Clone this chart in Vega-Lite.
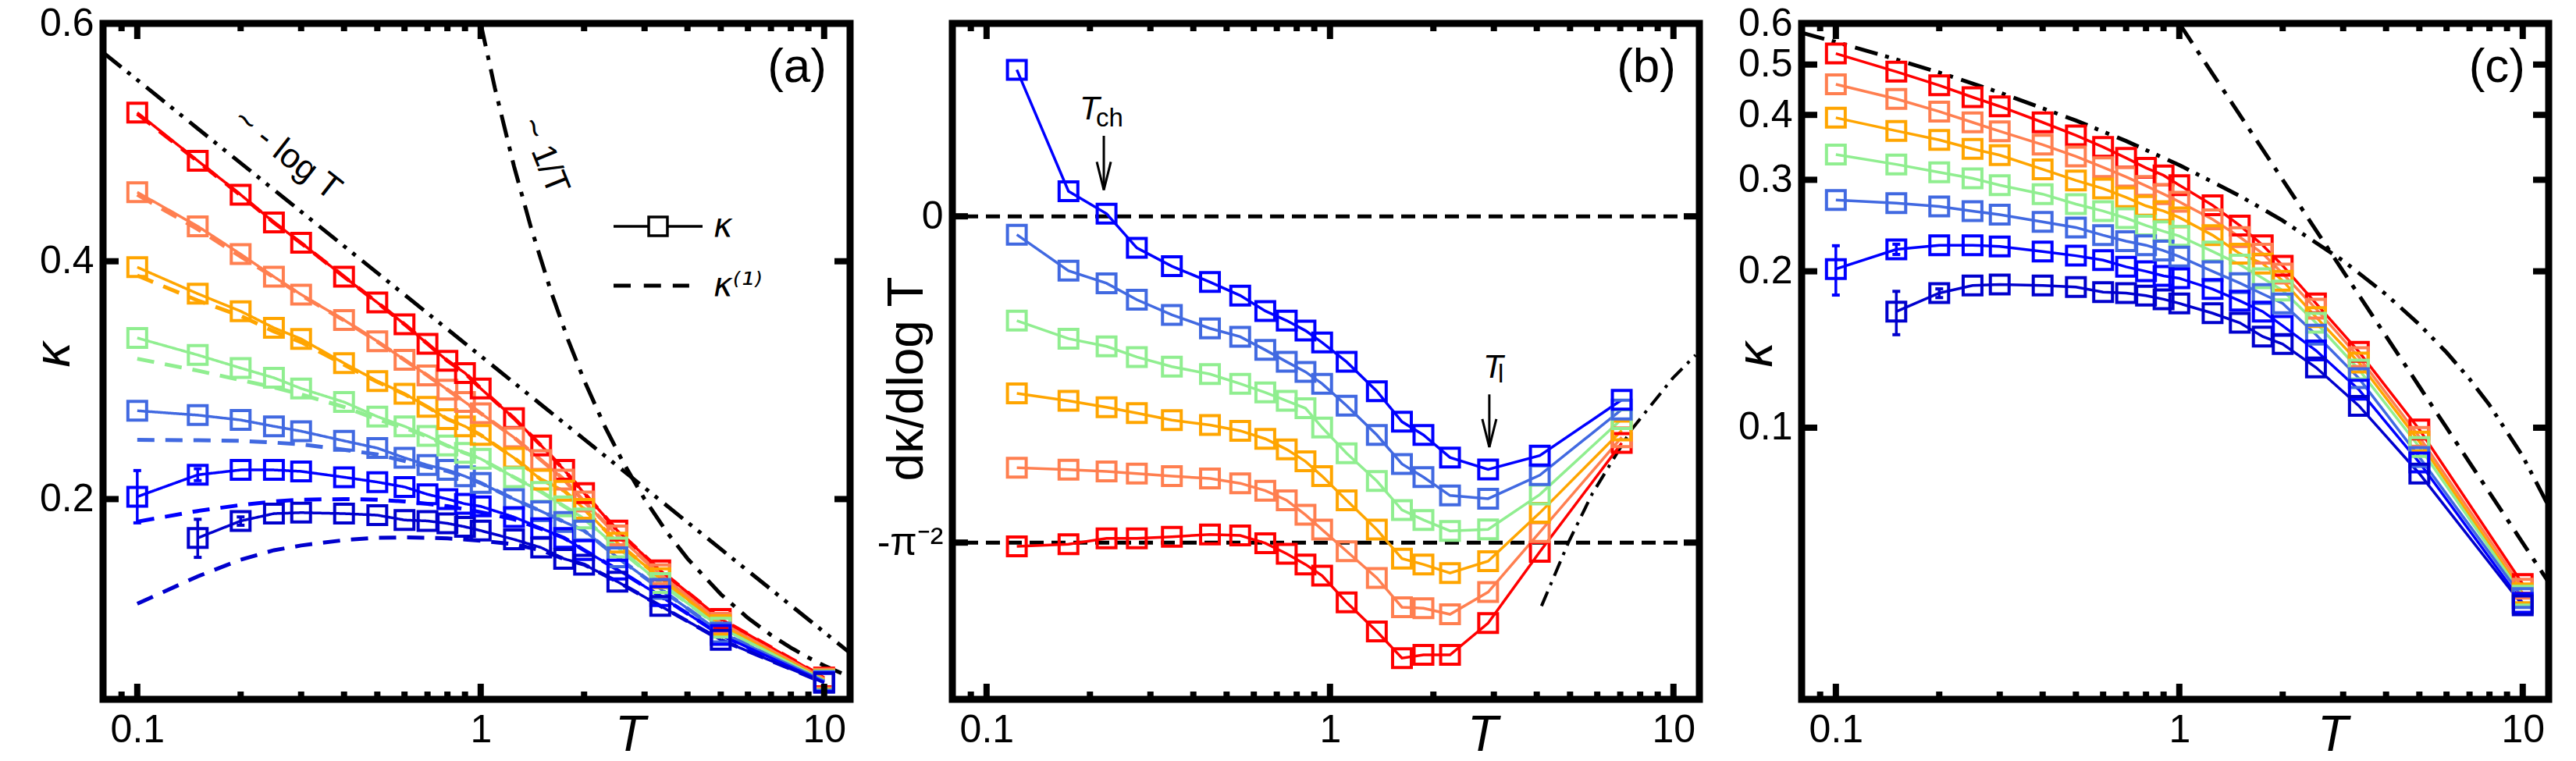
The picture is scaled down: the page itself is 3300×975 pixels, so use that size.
{
  "$schema": "https://vega.github.io/schema/vega-lite/v6.json",
  "autosize": {"type": "none"},
  "padding": {"left": 132, "top": 30, "right": 3168, "bottom": 945},
  "background": "white",
  "spacing": 131,
  "bounds": "flush",
  "datasets": {
    "kap": [
      {"T": 0.1, "c1": 0.525, "c2": 0.458, "c3": 0.395, "c4": 0.3355, "c5": 0.2743, "c6": 0.202},
      {"T": 0.15, "c1": 0.4845, "c2": 0.4294, "c3": 0.3727, "c4": 0.3212, "c5": 0.2706, "c6": 0.2204, "c7": 0.1673},
      {"T": 0.2, "c1": 0.456, "c2": 0.406, "c3": 0.358, "c4": 0.3102, "c5": 0.2665, "c6": 0.2245, "c7": 0.1816},
      {"T": 0.25, "c1": 0.4327, "c2": 0.387, "c3": 0.344, "c4": 0.302, "c5": 0.2612, "c6": 0.2245, "c7": 0.1878},
      {"T": 0.3, "c1": 0.4155, "c2": 0.372, "c3": 0.3347, "c4": 0.293, "c5": 0.2571, "c6": 0.2233, "c7": 0.1886},
      {"T": 0.4, "c1": 0.387, "c2": 0.3506, "c3": 0.3143, "c4": 0.2816, "c5": 0.249, "c6": 0.2184, "c7": 0.1878},
      {"T": 0.5, "c1": 0.3653, "c2": 0.3327, "c3": 0.2992, "c4": 0.2694, "c5": 0.2429, "c6": 0.2143, "c7": 0.1865},
      {"T": 0.6, "c1": 0.347, "c2": 0.3171, "c3": 0.2886, "c4": 0.2612, "c5": 0.2347, "c6": 0.2102, "c7": 0.1824},
      {"T": 0.7, "c1": 0.3306, "c2": 0.304, "c3": 0.2776, "c4": 0.2531, "c5": 0.2286, "c6": 0.204, "c7": 0.1816},
      {"T": 0.8, "c1": 0.3163, "c2": 0.292, "c3": 0.2673, "c4": 0.245, "c5": 0.2245, "c6": 0.2, "c7": 0.1796},
      {"T": 0.9, "c1": 0.306, "c2": 0.2816, "c3": 0.2612, "c4": 0.2388, "c5": 0.2192, "c6": 0.196, "c7": 0.1767},
      {"T": 1, "c1": 0.293, "c2": 0.2722, "c3": 0.2539, "c4": 0.2339, "c5": 0.2135, "c6": 0.1939, "c7": 0.1735},
      {"T": 1.25, "c1": 0.268, "c2": 0.2518, "c3": 0.2347, "c4": 0.2184, "c5": 0.2, "c6": 0.1849, "c7": 0.1661},
      {"T": 1.5, "c1": 0.245, "c2": 0.2327, "c3": 0.2163, "c4": 0.2061, "c5": 0.1898, "c6": 0.1755, "c7": 0.1592},
      {"T": 1.75, "c1": 0.2245, "c2": 0.2163, "c3": 0.207, "c4": 0.1939, "c5": 0.1808, "c6": 0.1673, "c7": 0.1498},
      {"T": 2, "c1": 0.205, "c2": 0.198, "c3": 0.1918, "c4": 0.1837, "c5": 0.1735, "c6": 0.1571, "c7": 0.1449},
      {"T": 2.5, "c1": 0.1735, "c2": 0.1694, "c3": 0.1633, "c4": 0.1592, "c5": 0.151, "c6": 0.1408, "c7": 0.1306},
      {"T": 3.333, "c1": 0.14, "c2": 0.1367, "c3": 0.1335, "c4": 0.1294, "c5": 0.1245, "c6": 0.1184, "c7": 0.1102},
      {"T": 5, "c1": 0.0992, "c2": 0.096, "c3": 0.094, "c4": 0.0918, "c5": 0.0878, "c6": 0.0857, "c7": 0.0816},
      {"T": 10, "c1": 0.05, "c2": 0.049, "c3": 0.048, "c4": 0.0475, "c5": 0.047, "c6": 0.046, "c7": 0.0455}
    ],
    "kap1": [
      {"T": 0.1, "c1": 0.524, "c2": 0.456, "c3": 0.388, "c4": 0.318, "c5": 0.2498, "c6": 0.181, "c7": 0.112},
      {"T": 0.15, "c1": 0.484, "c2": 0.427, "c3": 0.367, "c4": 0.308, "c5": 0.2495, "c6": 0.19, "c7": 0.135},
      {"T": 0.2, "c1": 0.4555, "c2": 0.404, "c3": 0.354, "c4": 0.3, "c5": 0.249, "c6": 0.195, "c7": 0.149},
      {"T": 0.25, "c1": 0.4325, "c2": 0.3865, "c3": 0.341, "c4": 0.294, "c5": 0.2475, "c6": 0.198, "c7": 0.157},
      {"T": 0.3, "c1": 0.4153, "c2": 0.3715, "c3": 0.332, "c4": 0.288, "c5": 0.246, "c6": 0.1995, "c7": 0.161},
      {"T": 0.4, "c1": 0.387, "c2": 0.3503, "c3": 0.313, "c4": 0.2775, "c5": 0.2415, "c6": 0.2, "c7": 0.1655},
      {"T": 0.5, "c1": 0.3653, "c2": 0.3325, "c3": 0.2985, "c4": 0.267, "c5": 0.2375, "c6": 0.1995, "c7": 0.1675},
      {"T": 0.6, "c1": 0.347, "c2": 0.317, "c3": 0.2883, "c4": 0.26, "c5": 0.232, "c6": 0.198, "c7": 0.1678},
      {"T": 0.7, "c1": 0.3306, "c2": 0.304, "c3": 0.2775, "c4": 0.2525, "c5": 0.227, "c6": 0.196, "c7": 0.1675},
      {"T": 0.8, "c1": 0.3163, "c2": 0.292, "c3": 0.2673, "c4": 0.2448, "c5": 0.2235, "c6": 0.194, "c7": 0.167},
      {"T": 0.9, "c1": 0.306, "c2": 0.2816, "c3": 0.2612, "c4": 0.2387, "c5": 0.219, "c6": 0.1915, "c7": 0.166},
      {"T": 1, "c1": 0.293, "c2": 0.2722, "c3": 0.2539, "c4": 0.2339, "c5": 0.2135, "c6": 0.189, "c7": 0.165},
      {"T": 1.25, "c1": 0.268, "c2": 0.2518, "c3": 0.2347, "c4": 0.2184, "c5": 0.2, "c6": 0.183, "c7": 0.162},
      {"T": 1.5, "c1": 0.245, "c2": 0.2327, "c3": 0.2163, "c4": 0.2061, "c5": 0.1898, "c6": 0.175, "c7": 0.157},
      {"T": 1.75, "c1": 0.2245, "c2": 0.2163, "c3": 0.207, "c4": 0.1939, "c5": 0.1808, "c6": 0.1673, "c7": 0.1495},
      {"T": 2, "c1": 0.205, "c2": 0.198, "c3": 0.1918, "c4": 0.1837, "c5": 0.1735, "c6": 0.1571, "c7": 0.1449},
      {"T": 2.5, "c1": 0.1735, "c2": 0.1694, "c3": 0.1633, "c4": 0.1592, "c5": 0.151, "c6": 0.1408, "c7": 0.1306},
      {"T": 3.333, "c1": 0.14, "c2": 0.1367, "c3": 0.1335, "c4": 0.1294, "c5": 0.1245, "c6": 0.1184, "c7": 0.1102},
      {"T": 5, "c1": 0.0992, "c2": 0.096, "c3": 0.094, "c4": 0.0918, "c5": 0.0878, "c6": 0.0857, "c7": 0.0816},
      {"T": 10, "c1": 0.05, "c2": 0.049, "c3": 0.048, "c4": 0.0475, "c5": 0.047, "c6": 0.046, "c7": 0.0455}
    ],
    "slope": [
      {"T": 0.1225, "c1": -0.1025, "c2": -0.0781, "c3": -0.055, "c4": -0.0324, "c5": -0.0057, "c6": 0.0455},
      {"T": 0.1732, "c1": -0.1018, "c2": -0.0787, "c3": -0.0573, "c4": -0.038, "c5": -0.0169, "c6": 0.0078},
      {"T": 0.2236, "c1": -0.1, "c2": -0.0792, "c3": -0.0593, "c4": -0.0404, "c5": -0.0208, "c6": 0.0008},
      {"T": 0.2739, "c1": -0.1, "c2": -0.0799, "c3": -0.0611, "c4": -0.0437, "c5": -0.0259, "c6": -0.0098},
      {"T": 0.3464, "c1": -0.0995, "c2": -0.0807, "c3": -0.0633, "c4": -0.0467, "c5": -0.0306, "c6": -0.0155},
      {"T": 0.4472, "c1": -0.0988, "c2": -0.0814, "c3": -0.0648, "c4": -0.049, "c5": -0.0348, "c6": -0.0204},
      {"T": 0.5477, "c1": -0.0991, "c2": -0.0829, "c3": -0.0666, "c4": -0.052, "c5": -0.0374, "c6": -0.0246},
      {"T": 0.6481, "c1": -0.1015, "c2": -0.0852, "c3": -0.0691, "c4": -0.0547, "c5": -0.0415, "c6": -0.0294},
      {"T": 0.7483, "c1": -0.1048, "c2": -0.0882, "c3": -0.0724, "c4": -0.0573, "c5": -0.0452, "c6": -0.0324},
      {"T": 0.8485, "c1": -0.1081, "c2": -0.0927, "c3": -0.0761, "c4": -0.0596, "c5": -0.0483, "c6": -0.0355},
      {"T": 0.9487, "c1": -0.1116, "c2": -0.0973, "c3": -0.0807, "c4": -0.0656, "c5": -0.052, "c6": -0.0392},
      {"T": 1.118, "c1": -0.1199, "c2": -0.104, "c3": -0.0882, "c4": -0.0736, "c5": -0.0588, "c6": -0.0452},
      {"T": 1.369, "c1": -0.1289, "c2": -0.1123, "c3": -0.0973, "c4": -0.0822, "c5": -0.0679, "c6": -0.0543},
      {"T": 1.62, "c1": -0.1372, "c2": -0.1214, "c3": -0.1063, "c4": -0.0912, "c5": -0.0769, "c6": -0.0638},
      {"T": 1.871, "c1": -0.1362, "c2": -0.1217, "c3": -0.1081, "c4": -0.0943, "c5": -0.081, "c6": -0.0679},
      {"T": 2.236, "c1": -0.1362, "c2": -0.1236, "c3": -0.1108, "c4": -0.0977, "c5": -0.0867, "c6": -0.0749},
      {"T": 2.887, "c1": -0.1263, "c2": -0.1167, "c3": -0.1071, "c4": -0.0972, "c5": -0.0877, "c6": -0.0786},
      {"T": 4.082, "c1": -0.1042, "c2": -0.0981, "c3": -0.0921, "c4": -0.0864, "c5": -0.0804, "c6": -0.0743},
      {"T": 7.071, "c1": -0.0704, "c2": -0.0686, "c3": -0.0665, "c4": -0.063, "c5": -0.06, "c6": -0.057}
    ],
    "err": [
      {"s": "c6", "T": 0.1, "lo": 0.18, "hi": 0.224},
      {"s": "c6", "T": 0.15, "lo": 0.2155, "hi": 0.2255},
      {"s": "c7", "T": 0.15, "lo": 0.151, "hi": 0.183},
      {"s": "c7", "T": 0.2, "lo": 0.178, "hi": 0.185}
    ],
    "refLog": [
      {"T": 0.0795, "k": 0.5756}, {"T": 0.1, "k": 0.5525}, {"T": 0.15, "k": 0.5116},
      {"T": 0.2, "k": 0.4826}, {"T": 0.3, "k": 0.4417}, {"T": 0.5, "k": 0.3902},
      {"T": 0.7, "k": 0.3563}, {"T": 1, "k": 0.3203}, {"T": 1.5, "k": 0.2794},
      {"T": 2, "k": 0.2504}, {"T": 3, "k": 0.2095}, {"T": 4, "k": 0.1805},
      {"T": 5, "k": 0.158}, {"T": 6, "k": 0.1396}, {"T": 7, "k": 0.1241},
      {"T": 8, "k": 0.1106}, {"T": 10, "k": 0.0881}, {"T": 11.9, "k": 0.0706}
    ],
    "refInv": [
      {"T": 1, "k": 0.6}, {"T": 1.1, "k": 0.5455}, {"T": 1.25, "k": 0.48},
      {"T": 1.4, "k": 0.4286}, {"T": 1.6, "k": 0.375}, {"T": 1.8, "k": 0.3333},
      {"T": 2, "k": 0.3}, {"T": 2.3, "k": 0.2609}, {"T": 2.6, "k": 0.2308},
      {"T": 3, "k": 0.2}, {"T": 3.5, "k": 0.1714}, {"T": 4, "k": 0.15},
      {"T": 5, "k": 0.12}, {"T": 6, "k": 0.1}, {"T": 7, "k": 0.0857},
      {"T": 8, "k": 0.075}, {"T": 9, "k": 0.0667}, {"T": 10, "k": 0.06}, {"T": 11.9, "k": 0.0504}
    ],
    "refB": [
      {"T": 4.13, "d": -0.121}, {"T": 4.96, "d": -0.101}, {"T": 5.8, "d": -0.0862},
      {"T": 7.53, "d": -0.0664}, {"T": 9.95, "d": -0.0503}, {"T": 11.6, "d": -0.0431}
    ],
    "xMaj": [{"T": 0.1}, {"T": 1}, {"T": 10}],
    "xMin": [
      {"T": 0.09}, {"T": 0.2}, {"T": 0.3}, {"T": 0.4}, {"T": 0.5}, {"T": 0.6}, {"T": 0.7}, {"T": 0.8}, {"T": 0.9},
      {"T": 2}, {"T": 3}, {"T": 4}, {"T": 5}, {"T": 6}, {"T": 7}, {"T": 8}, {"T": 9}
    ],
    "yTicksA": [{"v": 0.2}, {"v": 0.4}],
    "yTicksB": [{"v": 0}, {"v": -0.10132}],
    "yTicksC": [{"v": 0.1}, {"v": 0.2}, {"v": 0.3}, {"v": 0.4}, {"v": 0.5}],
    "one": [{}]
  },
  "hconcat": [
    {
      "width": 957,
      "height": 866,
      "resolve": {"axis": {"x": "independent", "y": "independent"}},
      "layer": [
        {
          "data": {"name": "refLog"},
          "mark": {"type": "line", "color": "black", "strokeWidth": 5, "strokeDash": [30, 10, 5, 10, 5, 11], "clip": true},
          "encoding": {
            "x": {"field": "T", "type": "quantitative", "scale": {"type": "log", "domain": [0.0795, 11.9], "nice": false},
              "axis": {"orient": "bottom", "values": [0.1, 1, 10], "format": "~g", "ticks": false, "labelPadding": 14,
                "title": "T", "titleFontStyle": "italic", "titleX": 675, "titleY": 65, "titleAlign": "center", "titleBaseline": "alphabetic", "titleAngle": 0}},
            "y": {"field": "k", "type": "quantitative", "scale": {"domain": [0.0316, 0.6], "nice": false, "zero": false},
              "axis": {"orient": "left", "values": [0.2, 0.4, 0.6], "format": ".1f", "ticks": false, "labelPadding": 12,
                "title": "κ", "titleFontStyle": "italic", "titleX": -63, "titleY": 424, "titleAlign": "center", "titleBaseline": "middle", "titleAngle": -90}}
          }
        },
        {
          "data": {"name": "refInv"},
          "mark": {"type": "line", "color": "black", "strokeWidth": 5, "strokeDash": [30, 12, 6, 12], "clip": true},
          "encoding": {
            "x": {"field": "T", "type": "quantitative", "axis": null},
            "y": {"field": "k", "type": "quantitative", "axis": null}
          }
        },
        {
          "data": {"name": "kap1"},
          "transform": [{"fold": ["c1", "c2", "c3", "c4", "c5", "c6", "c7"], "as": ["s", "k"]}, {"filter": "isValid(datum.k)"}],
          "mark": {"type": "line", "strokeWidth": 5, "clip": true},
          "encoding": {
            "x": {"field": "T", "type": "quantitative", "axis": null},
            "y": {"field": "k", "type": "quantitative", "axis": null},
            "color": {"field": "s", "type": "nominal", "scale": {"domain": ["c1", "c2", "c3", "c4", "c5", "c6", "c7"], "range": ["#ff0000", "#ff7f50", "#ffa500", "#90ee90", "#4169e1", "#0000ff", "#0000cd"]}, "legend": null},
            "strokeDash": {"datum": "κ⁽¹⁾", "type": "nominal",
              "scale": {"domain": ["κ", "κ⁽¹⁾"], "range": [[1, 0], [22, 14]]},
              "legend": {"title": null, "orient": "none", "legendX": 690, "legendY": 239, "padding": 0,
                "symbolSize": 13000, "rowPadding": 34, "labelOffset": 50, "symbolStrokeWidth": 3.5,
                "labelFont": "DejaVu Sans", "labelFontSize": 42, "labelFontStyle": "italic", "labelColor": "black",
                "encode": {"symbols": {"update": {
                  "shape": {"signal": "datum.value === 'κ' ? 'M-1,0H-0.21M0.21,0H1M-0.21,-0.21H0.21V0.21H-0.21Z' : 'M-1,0H-0.53M-0.32,0H0.14M0.33,0H0.7'"},
                  "size": {"value": 13000},
                  "stroke": {"value": "black"},
                  "strokeDash": {"value": [1, 0]},
                  "strokeWidth": {"signal": "datum.value === 'κ' ? 3.5 : 5"},
                  "fill": {"value": "transparent"},
                  "opacity": {"value": 1}
                }}}}}
          }
        },
        {
          "data": {"name": "kap"},
          "transform": [{"fold": ["c1", "c2", "c3", "c4", "c5", "c6", "c7"], "as": ["s", "k"]}, {"filter": "isValid(datum.k)"}],
          "mark": {"type": "line", "strokeWidth": 3.5},
          "encoding": {
            "x": {"field": "T", "type": "quantitative", "axis": null},
            "y": {"field": "k", "type": "quantitative", "axis": null},
            "color": {"field": "s", "type": "nominal", "legend": null},
            "strokeDash": {"datum": "κ", "type": "nominal"}
          }
        },
        {
          "data": {"name": "err"},
          "mark": {"type": "rule", "strokeWidth": 3.5},
          "encoding": {
            "x": {"field": "T", "type": "quantitative", "axis": null},
            "y": {"field": "lo", "type": "quantitative", "axis": null},
            "y2": {"field": "hi"},
            "color": {"field": "s", "type": "nominal", "legend": null}
          }
        },
        {
          "data": {"name": "err"},
          "transform": [{"fold": ["lo", "hi"], "as": ["end", "e"]}],
          "mark": {"type": "point", "shape": "M-1,0H1", "size": 100, "strokeWidth": 4, "filled": false, "opacity": 1},
          "encoding": {
            "x": {"field": "T", "type": "quantitative", "axis": null},
            "y": {"field": "e", "type": "quantitative", "axis": null},
            "color": {"field": "s", "type": "nominal", "legend": null}
          }
        },
        {
          "data": {"name": "kap"},
          "transform": [{"fold": ["c1", "c2", "c3", "c4", "c5", "c6", "c7"], "as": ["s", "k"]}, {"filter": "isValid(datum.k)"}],
          "mark": {"type": "point", "shape": "square", "filled": false, "size": 576, "strokeWidth": 4, "opacity": 1},
          "encoding": {
            "x": {"field": "T", "type": "quantitative", "axis": null},
            "y": {"field": "k", "type": "quantitative", "axis": null},
            "color": {"field": "s", "type": "nominal", "legend": null}
          }
        },
        {
          "data": {"name": "one"},
          "mark": {"type": "text", "text": "~ - log T", "angle": 38, "fontSize": 44, "font": "Liberation Sans", "color": "black", "align": "center", "baseline": "middle"},
          "encoding": {"x": {"datum": 0.273, "type": "quantitative", "axis": null}, "y": {"datum": 0.4897, "type": "quantitative", "axis": null}}
        },
        {
          "data": {"name": "one"},
          "mark": {"type": "text", "text": "~ 1/T", "angle": 68, "fontSize": 44, "font": "Liberation Sans", "color": "black", "align": "center", "baseline": "middle"},
          "encoding": {"x": {"datum": 1.528, "type": "quantitative", "axis": null}, "y": {"datum": 0.4884, "type": "quantitative", "axis": null}}
        },
        {
          "data": {"name": "one"},
          "mark": {"type": "text", "text": "(a)", "fontSize": 62, "font": "Liberation Sans", "color": "black", "align": "right", "baseline": "middle"},
          "encoding": {"x": {"datum": 10.17, "type": "quantitative", "axis": null}, "y": {"datum": 0.5632, "type": "quantitative", "axis": null}}
        },
        {
          "data": {"name": "xMaj"},
          "mark": {"type": "tick", "orient": "vertical", "size": 20, "thickness": 8, "yOffset": -10, "color": "black", "opacity": 1},
          "encoding": {"x": {"field": "T", "type": "quantitative", "axis": null}, "y": {"datum": 0.0316, "type": "quantitative", "axis": null}}
        },
        {
          "data": {"name": "xMaj"},
          "mark": {"type": "tick", "orient": "vertical", "size": 20, "thickness": 8, "yOffset": 10, "color": "black", "opacity": 1},
          "encoding": {"x": {"field": "T", "type": "quantitative", "axis": null}, "y": {"datum": 0.6, "type": "quantitative", "axis": null}}
        },
        {
          "data": {"name": "xMin"},
          "mark": {"type": "tick", "orient": "vertical", "size": 10, "thickness": 8, "yOffset": -5, "color": "black", "opacity": 1},
          "encoding": {"x": {"field": "T", "type": "quantitative", "axis": null}, "y": {"datum": 0.0316, "type": "quantitative", "axis": null}}
        },
        {
          "data": {"name": "xMin"},
          "mark": {"type": "tick", "orient": "vertical", "size": 10, "thickness": 8, "yOffset": 5, "color": "black", "opacity": 1},
          "encoding": {"x": {"field": "T", "type": "quantitative", "axis": null}, "y": {"datum": 0.6, "type": "quantitative", "axis": null}}
        },
        {
          "data": {"name": "yTicksA"},
          "mark": {"type": "tick", "orient": "horizontal", "size": 20, "thickness": 8, "xOffset": 10, "color": "black", "opacity": 1},
          "encoding": {"x": {"datum": 0.0795, "type": "quantitative", "axis": null}, "y": {"field": "v", "type": "quantitative", "axis": null}}
        },
        {
          "data": {"name": "yTicksA"},
          "mark": {"type": "tick", "orient": "horizontal", "size": 20, "thickness": 8, "xOffset": -10, "color": "black", "opacity": 1},
          "encoding": {"x": {"datum": 11.9, "type": "quantitative", "axis": null}, "y": {"field": "v", "type": "quantitative", "axis": null}}
        }
      ]
    },
    {
      "width": 957,
      "height": 866,
      "resolve": {"axis": {"x": "independent", "y": "independent"}},
      "layer": [
        {
          "data": {"values": [{"d": 0}, {"d": -0.10132}]},
          "mark": {"type": "rule", "color": "black", "strokeWidth": 5, "strokeDash": [18, 10]},
          "encoding": {
            "y": {"field": "d", "type": "quantitative", "scale": {"domain": [-0.15, 0.0599], "nice": false, "zero": false},
              "axis": {"orient": "left", "values": [0, -0.10132], "labelExpr": "datum.value === 0 ? '0' : '-π⁻²'", "ticks": false, "labelPadding": 12,
                "title": "dκ/dlog T", "titleX": -58, "titleY": 455, "titleAlign": "center", "titleBaseline": "middle", "titleAngle": -90}}
          }
        },
        {
          "data": {"name": "refB"},
          "mark": {"type": "line", "color": "black", "strokeWidth": 4, "strokeDash": [20, 9, 4, 9], "clip": true},
          "encoding": {
            "x": {"field": "T", "type": "quantitative", "scale": {"type": "log", "domain": [0.0795, 11.9], "nice": false},
              "axis": {"orient": "bottom", "values": [0.1, 1, 10], "format": "~g", "ticks": false, "labelPadding": 14,
                "title": "T", "titleFontStyle": "italic", "titleX": 679, "titleY": 65, "titleAlign": "center", "titleBaseline": "alphabetic", "titleAngle": 0}},
            "y": {"field": "d", "type": "quantitative", "axis": null}
          }
        },
        {
          "data": {"name": "slope"},
          "transform": [{"fold": ["c1", "c2", "c3", "c4", "c5", "c6"], "as": ["s", "d"]}],
          "mark": {"type": "line", "strokeWidth": 3.5},
          "encoding": {
            "x": {"field": "T", "type": "quantitative", "axis": null},
            "y": {"field": "d", "type": "quantitative", "axis": null},
            "color": {"field": "s", "type": "nominal", "scale": {"domain": ["c1", "c2", "c3", "c4", "c5", "c6", "c7"], "range": ["#ff0000", "#ff7f50", "#ffa500", "#90ee90", "#4169e1", "#0000ff", "#0000cd"]}, "legend": null}
          }
        },
        {
          "data": {"name": "slope"},
          "transform": [{"fold": ["c1", "c2", "c3", "c4", "c5", "c6"], "as": ["s", "d"]}],
          "mark": {"type": "point", "shape": "square", "filled": false, "size": 576, "strokeWidth": 4, "opacity": 1},
          "encoding": {
            "x": {"field": "T", "type": "quantitative", "axis": null},
            "y": {"field": "d", "type": "quantitative", "axis": null},
            "color": {"field": "s", "type": "nominal", "legend": null}
          }
        },
        {
          "data": {"values": [{"T": 0.2195, "v1": 0.025, "v2": 0.0082}, {"T": 2.91, "v1": -0.0553, "v2": -0.0717}]},
          "mark": {"type": "rule", "color": "black", "strokeWidth": 3},
          "encoding": {
            "x": {"field": "T", "type": "quantitative", "axis": null},
            "y": {"field": "v1", "type": "quantitative", "axis": null},
            "y2": {"field": "v2"}
          }
        },
        {
          "data": {"values": [{"T": 0.2195, "v": 0.0082}, {"T": 2.91, "v": -0.0717}]},
          "mark": {"type": "point", "shape": "M-0.5,-2L0,0L0.5,-2", "size": 1296, "filled": false, "color": "black", "strokeWidth": 3, "opacity": 1},
          "encoding": {
            "x": {"field": "T", "type": "quantitative", "axis": null},
            "y": {"field": "v", "type": "quantitative", "axis": null}
          }
        },
        {
          "data": {"values": [{"T": 0.1866, "v": 0.0301, "t": "T"}, {"T": 2.792, "v": -0.0502, "t": "T"}]},
          "mark": {"type": "text", "fontSize": 42, "font": "Liberation Sans", "fontStyle": "italic", "color": "black", "align": "left", "baseline": "alphabetic"},
          "encoding": {
            "x": {"field": "T", "type": "quantitative", "axis": null},
            "y": {"field": "v", "type": "quantitative", "axis": null},
            "text": {"field": "t"}
          }
        },
        {
          "data": {"values": [{"T": 0.2083, "v": 0.0279, "t": "ch"}, {"T": 3.084, "v": -0.0516, "t": "l"}]},
          "mark": {"type": "text", "fontSize": 33, "font": "Liberation Sans", "color": "black", "align": "left", "baseline": "alphabetic"},
          "encoding": {
            "x": {"field": "T", "type": "quantitative", "axis": null},
            "y": {"field": "v", "type": "quantitative", "axis": null},
            "text": {"field": "t"}
          }
        },
        {
          "data": {"name": "one"},
          "mark": {"type": "text", "text": "(b)", "fontSize": 62, "font": "Liberation Sans", "color": "black", "align": "right", "baseline": "middle"},
          "encoding": {"x": {"datum": 10.17, "type": "quantitative", "axis": null}, "y": {"datum": 0.0463, "type": "quantitative", "axis": null}}
        },
        {
          "data": {"name": "xMaj"},
          "mark": {"type": "tick", "orient": "vertical", "size": 20, "thickness": 8, "yOffset": -10, "color": "black", "opacity": 1},
          "encoding": {"x": {"field": "T", "type": "quantitative", "axis": null}, "y": {"datum": -0.15, "type": "quantitative", "axis": null}}
        },
        {
          "data": {"name": "xMaj"},
          "mark": {"type": "tick", "orient": "vertical", "size": 20, "thickness": 8, "yOffset": 10, "color": "black", "opacity": 1},
          "encoding": {"x": {"field": "T", "type": "quantitative", "axis": null}, "y": {"datum": 0.0599, "type": "quantitative", "axis": null}}
        },
        {
          "data": {"name": "xMin"},
          "mark": {"type": "tick", "orient": "vertical", "size": 10, "thickness": 8, "yOffset": -5, "color": "black", "opacity": 1},
          "encoding": {"x": {"field": "T", "type": "quantitative", "axis": null}, "y": {"datum": -0.15, "type": "quantitative", "axis": null}}
        },
        {
          "data": {"name": "xMin"},
          "mark": {"type": "tick", "orient": "vertical", "size": 10, "thickness": 8, "yOffset": 5, "color": "black", "opacity": 1},
          "encoding": {"x": {"field": "T", "type": "quantitative", "axis": null}, "y": {"datum": 0.0599, "type": "quantitative", "axis": null}}
        },
        {
          "data": {"name": "yTicksB"},
          "mark": {"type": "tick", "orient": "horizontal", "size": 20, "thickness": 8, "xOffset": 10, "color": "black", "opacity": 1},
          "encoding": {"x": {"datum": 0.0795, "type": "quantitative", "axis": null}, "y": {"field": "v", "type": "quantitative", "axis": null}}
        },
        {
          "data": {"name": "yTicksB"},
          "mark": {"type": "tick", "orient": "horizontal", "size": 20, "thickness": 8, "xOffset": -10, "color": "black", "opacity": 1},
          "encoding": {"x": {"datum": 11.9, "type": "quantitative", "axis": null}, "y": {"field": "v", "type": "quantitative", "axis": null}}
        }
      ]
    },
    {
      "width": 957,
      "height": 866,
      "resolve": {"axis": {"x": "independent", "y": "independent"}},
      "layer": [
        {
          "data": {"name": "refLog"},
          "mark": {"type": "line", "color": "black", "strokeWidth": 5, "strokeDash": [30, 10, 5, 10, 5, 11], "clip": true},
          "encoding": {
            "x": {"field": "T", "type": "quantitative", "scale": {"type": "log", "domain": [0.0795, 11.9], "nice": false},
              "axis": {"orient": "bottom", "values": [0.1, 1, 10], "format": "~g", "ticks": false, "labelPadding": 14,
                "title": "T", "titleFontStyle": "italic", "titleX": 680, "titleY": 65, "titleAlign": "center", "titleBaseline": "alphabetic", "titleAngle": 0}},
            "y": {"field": "k", "type": "quantitative", "scale": {"type": "log", "domain": [0.03, 0.6], "nice": false},
              "axis": {"orient": "left", "values": [0.1, 0.2, 0.3, 0.4, 0.5, 0.6], "format": ".1f", "ticks": false, "labelPadding": 12,
                "title": "κ", "titleFontStyle": "italic", "titleX": -58, "titleY": 424, "titleAlign": "center", "titleBaseline": "middle", "titleAngle": -90}}
          }
        },
        {
          "data": {"name": "refInv"},
          "mark": {"type": "line", "color": "black", "strokeWidth": 5, "strokeDash": [30, 12, 6, 12], "clip": true},
          "encoding": {
            "x": {"field": "T", "type": "quantitative", "axis": null},
            "y": {"field": "k", "type": "quantitative", "axis": null}
          }
        },
        {
          "data": {"name": "kap"},
          "transform": [{"fold": ["c1", "c2", "c3", "c4", "c5", "c6", "c7"], "as": ["s", "k"]}, {"filter": "isValid(datum.k)"}],
          "mark": {"type": "line", "strokeWidth": 3.5},
          "encoding": {
            "x": {"field": "T", "type": "quantitative", "axis": null},
            "y": {"field": "k", "type": "quantitative", "axis": null},
            "color": {"field": "s", "type": "nominal", "scale": {"domain": ["c1", "c2", "c3", "c4", "c5", "c6", "c7"], "range": ["#ff0000", "#ff7f50", "#ffa500", "#90ee90", "#4169e1", "#0000ff", "#0000cd"]}, "legend": null}
          }
        },
        {
          "data": {"name": "err"},
          "mark": {"type": "rule", "strokeWidth": 3.5},
          "encoding": {
            "x": {"field": "T", "type": "quantitative", "axis": null},
            "y": {"field": "lo", "type": "quantitative", "axis": null},
            "y2": {"field": "hi"},
            "color": {"field": "s", "type": "nominal", "legend": null}
          }
        },
        {
          "data": {"name": "err"},
          "transform": [{"fold": ["lo", "hi"], "as": ["end", "e"]}],
          "mark": {"type": "point", "shape": "M-1,0H1", "size": 100, "strokeWidth": 4, "filled": false, "opacity": 1},
          "encoding": {
            "x": {"field": "T", "type": "quantitative", "axis": null},
            "y": {"field": "e", "type": "quantitative", "axis": null},
            "color": {"field": "s", "type": "nominal", "legend": null}
          }
        },
        {
          "data": {"name": "kap"},
          "transform": [{"fold": ["c1", "c2", "c3", "c4", "c5", "c6", "c7"], "as": ["s", "k"]}, {"filter": "isValid(datum.k)"}],
          "mark": {"type": "point", "shape": "square", "filled": false, "size": 576, "strokeWidth": 4, "opacity": 1},
          "encoding": {
            "x": {"field": "T", "type": "quantitative", "axis": null},
            "y": {"field": "k", "type": "quantitative", "axis": null},
            "color": {"field": "s", "type": "nominal", "legend": null}
          }
        },
        {
          "data": {"name": "one"},
          "mark": {"type": "text", "text": "(c)", "fontSize": 62, "font": "Liberation Sans", "color": "black", "align": "right", "baseline": "middle"},
          "encoding": {"x": {"datum": 10.17, "type": "quantitative", "axis": null}, "y": {"datum": 0.494, "type": "quantitative", "axis": null}}
        },
        {
          "data": {"name": "xMaj"},
          "mark": {"type": "tick", "orient": "vertical", "size": 20, "thickness": 8, "yOffset": -10, "color": "black", "opacity": 1},
          "encoding": {"x": {"field": "T", "type": "quantitative", "axis": null}, "y": {"datum": 0.03, "type": "quantitative", "axis": null}}
        },
        {
          "data": {"name": "xMaj"},
          "mark": {"type": "tick", "orient": "vertical", "size": 20, "thickness": 8, "yOffset": 10, "color": "black", "opacity": 1},
          "encoding": {"x": {"field": "T", "type": "quantitative", "axis": null}, "y": {"datum": 0.6, "type": "quantitative", "axis": null}}
        },
        {
          "data": {"name": "xMin"},
          "mark": {"type": "tick", "orient": "vertical", "size": 10, "thickness": 8, "yOffset": -5, "color": "black", "opacity": 1},
          "encoding": {"x": {"field": "T", "type": "quantitative", "axis": null}, "y": {"datum": 0.03, "type": "quantitative", "axis": null}}
        },
        {
          "data": {"name": "xMin"},
          "mark": {"type": "tick", "orient": "vertical", "size": 10, "thickness": 8, "yOffset": 5, "color": "black", "opacity": 1},
          "encoding": {"x": {"field": "T", "type": "quantitative", "axis": null}, "y": {"datum": 0.6, "type": "quantitative", "axis": null}}
        },
        {
          "data": {"name": "yTicksC"},
          "mark": {"type": "tick", "orient": "horizontal", "size": 20, "thickness": 8, "xOffset": 10, "color": "black", "opacity": 1},
          "encoding": {"x": {"datum": 0.0795, "type": "quantitative", "axis": null}, "y": {"field": "v", "type": "quantitative", "axis": null}}
        },
        {
          "data": {"name": "yTicksC"},
          "mark": {"type": "tick", "orient": "horizontal", "size": 20, "thickness": 8, "xOffset": -10, "color": "black", "opacity": 1},
          "encoding": {"x": {"datum": 11.9, "type": "quantitative", "axis": null}, "y": {"field": "v", "type": "quantitative", "axis": null}}
        }
      ]
    }
  ],
  "config": {
    "view": {"stroke": "black", "strokeWidth": 9, "fill": "transparent"},
    "font": "Liberation Sans",
    "axis": {
      "domain": false, "grid": false,
      "labelColor": "black", "labelFont": "Liberation Sans", "labelFontSize": 50,
      "labelOverlap": false, "labelFlush": false, "labelBound": false,
      "titleColor": "black", "titleFont": "Liberation Sans", "titleFontSize": 64, "titleFontWeight": "normal"
    }
  }
}
